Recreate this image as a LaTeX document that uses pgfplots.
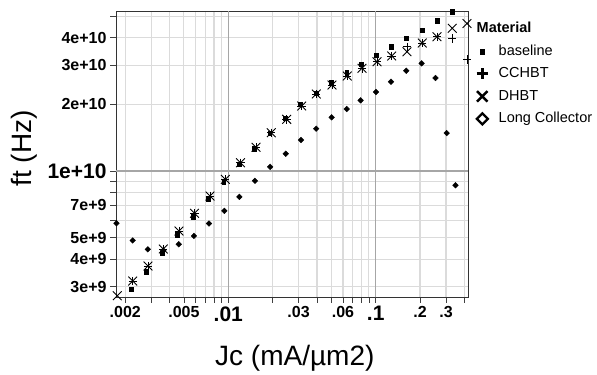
\documentclass[border=0pt]{standalone}
\usepackage{pgfplots}
\pgfplotsset{compat=1.18}
\usepackage{fontspec}
\setmainfont{Liberation Sans}
\newcommand{\tickf}{\fontsize{16bp}{16bp}\selectfont\bfseries}
\newcommand{\bigf}{\fontsize{21bp}{21bp}\selectfont\bfseries}
\newcommand{\labf}{\fontsize{28bp}{28bp}\selectfont}
\newcommand{\legf}{\fontsize{14.5bp}{14.5bp}\selectfont}
\begin{document}
\begin{tikzpicture}
\useasboundingbox (0,0) rectangle (597bp,375bp);
\begin{axis}[
  at={(116bp,78bp)}, anchor=south west,
  scale only axis, width=352bp, height=286bp,
  xmode=log, ymode=log,
  xmin=0.00173, xmax=0.423, ymin=2.70e9, ymax=5.28e10,
  clip=false,
  axis line style={black!80, line width=0.9bp},
  tick pos=left, tick align=outside,
  major tick length=6bp, minor tick length=6bp,
  tick style={black!75, line width=0.8bp},
  grid=both,
  major grid style={black!14, line width=1.1bp},
  minor grid style={black!14, line width=1.1bp},
  xtick={0.002,0.005,0.03,0.06,0.2,0.3},
  xticklabels={.002,.005,.03,.06,.2,.3},
  minor xtick={0.003,0.004,0.006,0.007,0.008,0.009,0.02,0.04,0.05,0.07,0.08,0.09,0.4},
  extra x ticks={0.01,0.1},
  extra x tick labels={.01,.1},
  extra x tick style={major grid style={black!35, line width=1.1bp}, xticklabel style={font=\bigf}},
  ytick={3e9,4e9,5e9,7e9,2e10,3e10,4e10},
  yticklabels={3e+9,4e+9,5e+9,7e+9,2e+10,3e+10,4e+10},
  minor ytick={6e9,8e9,9e9,5e10},
  extra y ticks={1e10},
  extra y tick labels={1e+10},
  extra y tick style={major grid style={black!35, line width=1.1bp}, yticklabel style={font=\bigf}},
  xticklabel style={font=\tickf},
  yticklabel style={font=\tickf},
  xlabel={Jc (mA/µm2)},
  xlabel style={font=\labf, at={(axis description cs:0.508,-0.2413)}, anchor=base},
  ylabel={ft (Hz)},
  ylabel style={font=\labf, at={(axis description cs:-0.2395,0.52)}, anchor=base, rotate=0},
  legend image code/.code={\path (0bp,-4bp) (12bp,4bp); \draw[#1] plot coordinates {(6bp,0bp)};},
  legend cell align=left,
  legend style={at={(axis description cs:1,1)}, anchor=north west, xshift=6.7bp, yshift=-10.7bp,
    draw=none, fill=none, font=\legf, inner sep=0pt, row sep=8.5bp, column sep=9bp,
    nodes={inner sep=0pt, text height=11bp, text depth=3bp}},
]
\addlegendimage{empty legend}
\addlegendentry{\hspace*{-22bp}\textbf{Material}}
\addlegendimage{only marks, mark=square*, mark size=2.4bp, fill=black}
\addlegendentry{baseline}
\addlegendimage{only marks, line width=2.8bp, mark=+, mark size=5.6bp, mark options={line width=2.8bp}}
\addlegendentry{CCHBT}
\addlegendimage{only marks, mark=x, mark size=7.4bp, mark options={line width=2.4bp}}
\addlegendentry{DHBT}
\addlegendimage{only marks, mark=square, mark size=3.9bp, mark options={rotate=45, line width=2.3bp}}
\addlegendentry{Long Collector}

% Long Collector
\addplot[forget plot, only marks, mark=square*, mark size=2.0bp, black, mark options={rotate=45}] coordinates {
(0.001741,5.81e9) (0.002246,4.86e9) (0.002843,4.43e9) (0.003622,4.38e9) (0.004611,4.67e9)
(0.005841,5.09e9) (0.007396,5.79e9) (0.009394,6.61e9) (0.01189,7.65e9) (0.01517,9.03e9)
(0.01923,1.045e10) (0.02453,1.196e10) (0.03111,1.380e10) (0.03945,1.552e10) (0.05027,1.748e10)
(0.06357,1.905e10) (0.07901,2.085e10) (0.1005,2.274e10) (0.1270,2.530e10) (0.1613,2.837e10)
(0.2050,3.063e10) (0.2545,2.630e10) (0.3032,1.484e10) (0.3478,8.62e9)
};
% baseline
\addplot[forget plot, only marks, mark=square*, mark size=1.9bp, black, mark options={yscale=1.2}] coordinates {
(0.00220,2.933e9) (0.00279,3.510e9) (0.00354,4.250e9) (0.00452,5.16e9) (0.00576,6.22e9)
(0.00734,7.47e9) (0.00932,8.92e9) (0.01182,1.075e10) (0.01507,1.264e10) (0.01912,1.484e10)
(0.02433,1.735e10) (0.03076,2.007e10) (0.03954,2.249e10) (0.05000,2.515e10) (0.06350,2.779e10)
(0.07990,3.031e10) (0.1010,3.340e10) (0.1270,3.641e10) (0.1620,3.973e10) (0.2060,4.331e10)
(0.2605,4.781e10) (0.3309,5.24e10)
};
% CCHBT
\addplot[forget plot, only marks, mark=+, mark size=4.2bp, line width=0.9bp, black] coordinates {
(0.002246,3.186e9) (0.002852,3.725e9) (0.003622,4.445e9) (0.004628,5.36e9) (0.005898,6.44e9)
(0.007512,7.71e9) (0.009541,9.17e9) (0.01210,1.090e10) (0.01542,1.280e10) (0.01957,1.489e10)
(0.02490,1.712e10) (0.03148,1.966e10) (0.03954,2.227e10) (0.05053,2.445e10) (0.06417,2.685e10)
(0.08073,2.909e10) (0.1021,3.115e10) (0.1284,3.306e10) (0.1630,3.641e10) (0.2071,3.784e10)
(0.2605,4.040e10) (0.3309,3.973e10) (0.4163,3.193e10)
};
% DHBT
\addplot[forget plot, only marks, mark=x, mark size=6.2bp, line width=0.9bp, black] coordinates {
(0.001765,2.735e9) (0.002246,3.186e9) (0.002852,3.725e9) (0.003622,4.445e9) (0.004628,5.36e9)
(0.005898,6.44e9) (0.007512,7.71e9) (0.009541,9.17e9) (0.01210,1.090e10) (0.01542,1.280e10)
(0.01957,1.489e10) (0.02490,1.712e10) (0.03148,1.966e10) (0.03954,2.227e10) (0.05053,2.445e10)
(0.06417,2.685e10) (0.08073,2.909e10) (0.1021,3.115e10) (0.1284,3.306e10) (0.1630,3.456e10)
(0.2071,3.784e10) (0.2605,4.040e10) (0.3309,4.409e10) (0.4163,4.634e10)
};
\end{axis}
\end{tikzpicture}
\end{document}
